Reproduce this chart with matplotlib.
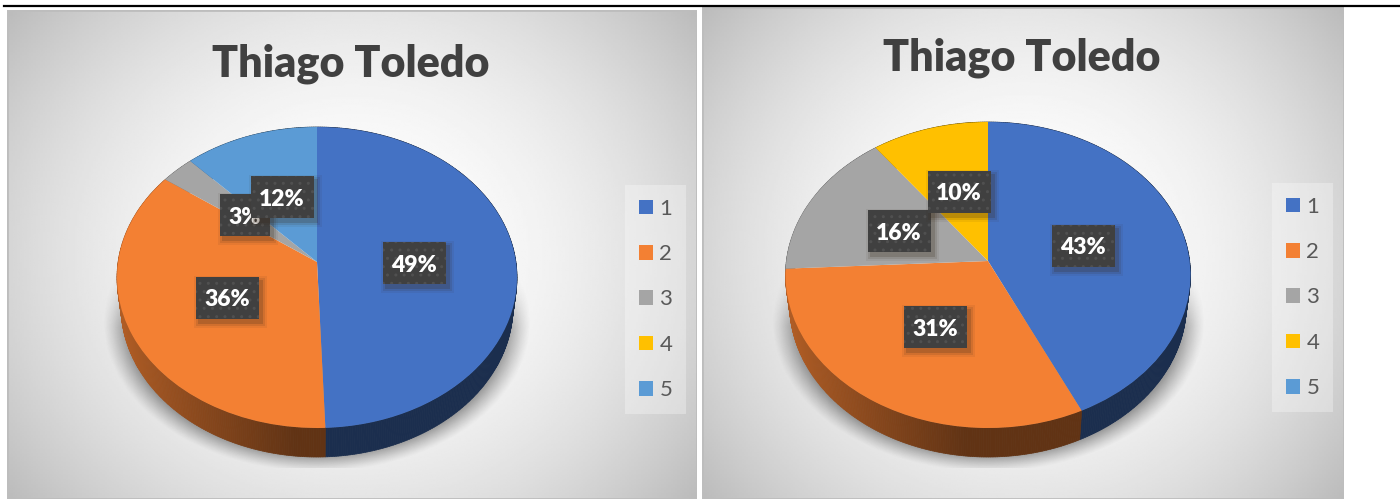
import numpy as np
import matplotlib
matplotlib.use("Agg")
import matplotlib.pyplot as plt
from matplotlib.collections import PolyCollection
from matplotlib.colors import to_rgb
from matplotlib.lines import Line2D
from matplotlib.patches import Patch, Rectangle
from matplotlib.transforms import Transform

plt.rcParams['font.family'] = ['Lato', 'DejaVu Sans']

W, H = 1400, 499

# data
categories = ['1', '2', '3', '4', '5']
colors = ['#4472C4', '#F38033', '#A5A5A5', '#FFC000', '#5B9BD5']
title_text = 'Thiago Toledo'
values_left = [49.4, 35.6, 3.0, 0.0, 12.0]
values_right = [43.0, 31.2, 15.6, 10.2, 0.0]

# label box centres in pixels, drawn in this order
label_pos_left = {0: (414, 263), 1: (227, 298), 2: (245, 215), 4: (282, 197)}
label_pos_right = {0: (1083, 246), 1: (935, 327), 2: (899, 231), 3: (959, 192)}


class PiePerspective(Transform):
    """tilted disc: unit pie coords -> pixel coords"""
    input_dims = 2
    output_dims = 2

    def __init__(self, cx, cy, k, a, c):
        super().__init__()
        self.cx, self.cy, self.k, self.a, self.c = cx, cy, k, a, c

    def transform_non_affine(self, values):
        values = np.asarray(values)
        w = 1 + self.c * values[:, 1]
        return np.column_stack((self.cx + self.k * values[:, 0] / w,
                                self.cy + self.a * values[:, 1] / w))


def px_y(y):
    return H - y


def background(ax, box):
    x0, y0, x1, y1 = box
    xx, yy = np.meshgrid(np.linspace(-1, 1, 300), np.linspace(-1, 1, 300))
    r2 = (1.1 * xx ** 2 + 0.7 * yy ** 2) / 1.8
    grey = (255 - 68 * r2) / 255
    ax.imshow(grey, cmap='gray', vmin=0, vmax=1, extent=(x0, x1, px_y(y1), px_y(y0)),
              aspect='auto', zorder=0, interpolation='bilinear')
    ax.add_patch(Rectangle((x0, px_y(y1)), x1 - x0, y1 - y0, fill=False,
                           edgecolor='#BDBDBD', linewidth=2, zorder=1))


def shadow(ax, cx, rx, apex_y):
    x0, x1 = cx - rx - 22, cx + rx + 22
    y0, y1 = apex_y + 5, 468
    xs = np.linspace(x0, x1, 400)
    ys = np.linspace(y0, y1, 300)
    xx, yy = np.meshgrid(xs, ys)
    d = np.sqrt(((xx - cx) / (rx + 14)) ** 2 + ((yy - 322) / 150) ** 2)
    alpha = np.clip((1 - d) / 0.11, 0, 1) ** 1.2 * 0.5
    alpha *= np.clip((yy - y0) / 60, 0, 1)
    img = np.zeros(xx.shape + (4,))
    img[..., :3] = 0.25
    img[..., 3] = alpha
    ax.imshow(img, extent=(x0, x1, px_y(y1), px_y(y0)), aspect='auto', zorder=2)


def side_wall(ax, values, persp, depth):
    # front wall of the pie, thin quads shaded from left to centre
    fracs = np.cumsum([0] + list(values)) / np.sum(values)
    polys, faces = [], []
    for i, col in enumerate(colors):
        if values[i] == 0:
            continue
        th = np.linspace(fracs[i], fracs[i + 1], int(values[i] * 6) + 2) * 2 * np.pi
        rim = np.column_stack((np.sin(th), np.cos(th)))
        top = persp.transform_non_affine(rim)
        low = persp.transform_non_affine(rim * [0.98, 1.0])
        low[:, 1] -= depth
        rgb = np.array(to_rgb(col))
        for j in range(len(th) - 1):
            polys.append([top[j], top[j + 1], low[j + 1], low[j]])
            f = 0.40 + 0.32 * np.clip((-rim[j, 0] - 0.1) / 0.85, 0, 1)
            faces.append(rgb * f)
    ax.add_collection(PolyCollection(polys, facecolors=faces, edgecolors=faces,
                                     linewidths=0.5, zorder=3))


def data_label(ax, xy, text):
    w, h = (63 if len(text) > 2 else 50), 42
    x, y = xy[0] - w / 2, px_y(xy[1]) - h / 2
    for grow, al in [(5, 0.07), (3, 0.12), (1, 0.2)]:
        ax.add_patch(Rectangle((x + 3 - grow, y - 4 - grow), w + 2 * grow, h + 2 * grow,
                               facecolor='#3a2a1a', edgecolor='none', alpha=al, zorder=5))
    ax.add_patch(Rectangle((x, y), w, h, facecolor='#404040', edgecolor='#505050',
                           hatch='..', linewidth=0, zorder=5))
    ax.text(xy[0], px_y(xy[1]), text, color='white', fontsize=16.5, fontweight='heavy',
            ha='center', va='center_baseline', zorder=5)


def draw_panel(box, values, pie_box, label_pos, title_xy, legend_xy):
    x0, y0, x1, y1 = box
    left, right, top, bottom, apex_x, apex_y = pie_box
    ax = fig.add_axes([x0 / W, 1 - y1 / H, (x1 - x0) / W, (y1 - y0) / H])

    up, down = apex_y - top, bottom - apex_y
    c = (down - up) / (down + up)
    a = up * (1 + c)
    k = (right - left) / 2 * np.sqrt(1 - c ** 2)
    persp = PiePerspective(apex_x, px_y(apex_y), k, a, c)

    background(ax, box)
    shadow(ax, apex_x, (right - left) / 2, apex_y)
    side_wall(ax, values, persp, 29)

    wedges, _ = ax.pie(values, colors=colors, startangle=90, counterclock=False)
    for w in wedges:
        w.set_transform(persp + ax.transData)
        w.set_zorder(4)
        w.set_linewidth(0)

    for i, xy in label_pos.items():
        data_label(ax, xy, '%.0f%%' % values[i])

    ax.text(title_xy[0], px_y(title_xy[1]), title_text, color='#404040', fontsize=31,
            fontweight='heavy', ha='center', va='baseline', zorder=6)

    handles = [Patch(facecolor=col, edgecolor='none') for col in colors]
    leg = ax.legend(handles, categories, loc='upper left', bbox_to_anchor=legend_xy,
                    bbox_transform=ax.transData, fontsize=16, labelcolor='#595959',
                    frameon=True, fancybox=False, edgecolor='none', facecolor='white',
                    framealpha=0.3, handlelength=0.63, handleheight=0.63,
                    handletextpad=0.3, labelspacing=1.14, borderpad=0.62, borderaxespad=0)
    leg.set_zorder(7)

    ax.set_xlim(x0, x1)
    ax.set_ylim(px_y(y1), px_y(y0))
    ax.set_aspect('auto')
    ax.set_axis_off()
    return ax


fig = plt.figure(figsize=(14, 4.99), dpi=100, facecolor='white')

draw_panel((7, 10, 697, 499), values_left, (117, 517, 127, 428, 317, 262),
           label_pos_left, (351, 76), (625, px_y(185)))
draw_panel((702, 7, 1344, 499), values_right, (785, 1190, 122, 428, 988, 261),
           label_pos_right, (1022, 71), (1272, px_y(183)))

# rule along the top of the page
fig.add_artist(Line2D([4 / W, 1], [1 - 6 / H, 1 - 6 / H], color='black', linewidth=1.6))

fig.savefig('out.png', dpi=100)
